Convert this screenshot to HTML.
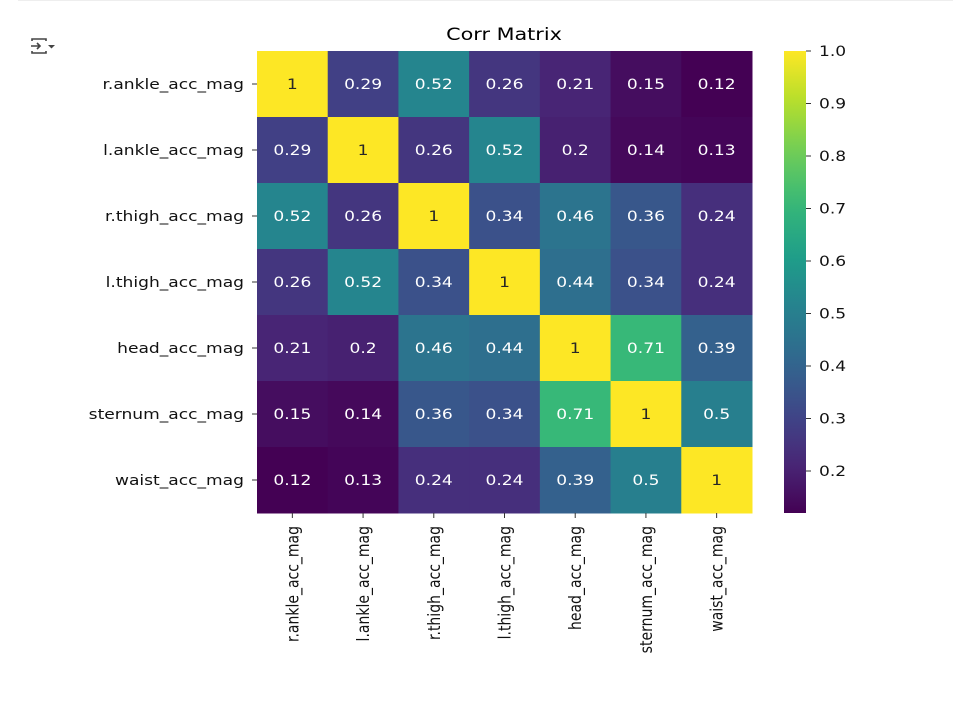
<!DOCTYPE html>
<html><head><meta charset="utf-8"><style>
body{margin:0;background:#fff;font-family:"DejaVu Sans","Liberation Sans",sans-serif;}
svg text{font-family:"DejaVu Sans","Liberation Sans",sans-serif;}
</style></head><body>
<svg id="chart" width="953" height="715" xmlns="http://www.w3.org/2000/svg">
<line x1="18" y1="0.5" x2="953" y2="0.5" stroke="#eee"/>
<g stroke="#444" stroke-width="1.6" fill="none">
<path d="M32 41 v-2 h14 v2 M32 51 v2 h14 v-2 M31 46 h9 M37 43 l3 3 l-3 3"/>
<path d="M48 45 h7 l-3.5 3.5 z" fill="#444" stroke="none"/>
</g>
<text transform="translate(504 40) scale(1.22 1)" font-size="17" text-anchor="middle" fill="#000">Corr Matrix</text>
<g id="cells"></g>
<g id="ylabels"></g>
<g id="xlabels"></g>
<defs><linearGradient id="cg" x1="0" y1="1" x2="0" y2="0"></linearGradient></defs>
<rect x="784" y="51" width="22" height="462" fill="url(#cg)"/>
<g id="cticks"></g>
</svg>
<script>
const labels=["r.ankle_acc_mag","l.ankle_acc_mag","r.thigh_acc_mag","l.thigh_acc_mag","head_acc_mag","sternum_acc_mag","waist_acc_mag"];
const row0=[1,0.29,0.52,0.26,0.21,0.15,0.12];
const row1=[0.29,1,0.26,0.52,0.2,0.14,0.13];
const row2=[0.52,0.26,1,0.34,0.46,0.36,0.24];
const row3=[0.26,0.52,0.34,1,0.44,0.34,0.24];
const row4=[0.21,0.2,0.46,0.44,1,0.71,0.39];
const row5=[0.15,0.14,0.36,0.34,0.71,1,0.5];
const row6=[0.12,0.13,0.24,0.24,0.39,0.5,1];
const matrix=[row0,row1,row2,row3,row4,row5,row6];
const cbTicks=[0.2,0.3,0.4,0.5,0.6,0.7,0.8,0.9,1.0];
const vmin=0.12,vmax=1;
const L=257,R=752,T=51,B=513;
const SX=1.22;
const vir=[[68,1,84],[72,40,120],[62,73,137],[49,104,142],[38,130,142],[31,158,137],[53,183,121],[109,205,89],[180,222,44],[253,231,37]];
function cmap(v){let t=(v-vmin)/(vmax-vmin);t=Math.max(0,Math.min(1,t))*(vir.length-1);const i=Math.min(Math.floor(t),vir.length-2),f=t-i;
const c=vir[i].map((a,k)=>Math.round(a+(vir[i+1][k]-a)*f));return c;}
const n=labels.length,cw=(R-L)/n,ch=(B-T)/n;
const xs=i=>L+i*cw, ys=j=>T+j*ch;
const NS="http://www.w3.org/2000/svg";
function mk(t,a,p){const e=document.createElementNS(NS,t);for(const k in a)e.setAttribute(k,a[k]);p.appendChild(e);return e;}
const cells=document.getElementById('cells');
matrix.forEach((row,j)=>row.forEach((v,i)=>{
const c=cmap(v);
const r=mk('rect',{x:xs(i),y:ys(j),width:cw+0.5,height:ch+0.5,fill:`rgb(${c})`},cells);


const lum=(0.299*c[0]+0.587*c[1]+0.114*c[2]);
const t=mk('text',{transform:`translate(${xs(i)+cw/2} ${ys(j)+ch/2+5}) scale(${SX} 1)`,'font-size':14,'text-anchor':'middle',fill:lum>150?'#262626':'#fff'},cells);
t.textContent=String(v);


}));
const yl=document.getElementById('ylabels'),xl=document.getElementById('xlabels');
labels.forEach((s,j)=>{
const y=ys(j)+ch/2;
mk('line',{x1:L-5,x2:L,y1:y,y2:y,stroke:'#333'},yl);
const t=mk('text',{transform:`translate(${L-13} ${y+5}) scale(${SX} 1)`,'font-size':14,'text-anchor':'end',fill:'#111'},yl);t.textContent=s;


const x=xs(j)+cw/2;
mk('line',{x1:x,x2:x,y1:B,y2:B+5,stroke:'#333'},xl);
const u=mk('text',{transform:`translate(${x+6} ${B+13}) rotate(-90) scale(1 ${SX})`,'font-size':14,'text-anchor':'end',fill:'#111'},xl);u.textContent=s;


});
const g=document.getElementById('cg');
for(let k=0;k<=20;k++){const v=vmin+(vmax-vmin)*k/20;mk('stop',{offset:k/20,'stop-color':`rgb(${cmap(v)})`},g);}
const ct=document.getElementById('cticks');
const cy=v=>B-(v-vmin)/(vmax-vmin)*(B-T);
cbTicks.forEach(v=>{const y=cy(v);
mk('line',{x1:806,x2:811,y1:y,y2:y,stroke:'#333'},ct);
const t=mk('text',{transform:`translate(819 ${y+5}) scale(${SX} 1)`,'font-size':14,fill:'#111'},ct);t.textContent=v.toFixed(1);

});
</script>
</body></html>
